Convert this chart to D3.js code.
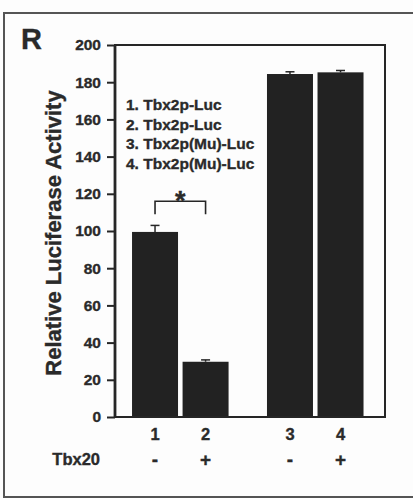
<!DOCTYPE html>
<html>
<head>
<meta charset="utf-8">
<script src="https://cdn.jsdelivr.net/npm/d3@7"></script>
<style>
  html, body { margin: 0; padding: 0; background: #fdfdfd; }
  svg { display: block; }
  text { font-family: "Liberation Sans", Arial, Helvetica, sans-serif; font-weight: bold; fill: #2a2a2a; stroke: #2a2a2a; stroke-width: 0.35px; }
</style>
</head>
<body>
<div id="chart"></div>
<script>
// ---- data ----
const barLabels = ["1", "2", "3", "4"];
const groupPositions = [1, 2, 3.67, 4.67];
const luciferase = [99.5, 29.7, 184.4, 185.3];
const errorValues = [3.5, 1.0, 1.2, 1.0];
const tbx20 = ["-", "+", "-", "+"];
const constructs = ["1. Tbx2p-Luc", "2. Tbx2p-Luc", "3. Tbx2p(Mu)-Luc", "4. Tbx2p(Mu)-Luc"];
const yTicks = [0, 20, 40, 60, 80, 100, 120, 140, 160, 180, 200];
const sigPair = [0, 1];
const sigBracket = [109, 116];

// ---- layout ----
const W = 413, H = 498;
const plot = { left: 115, right: 385, top: 45, bottom: 417 };
const ink = "#262626";

const svg = d3.select("#chart").append("svg").attr("width", W).attr("height", H);

// outer panel frame (right side cropped off)
svg.append("rect").attr("x", 4).attr("y", 13).attr("width", 430).attr("height", 484)
  .attr("fill", "none").attr("stroke", "#555").attr("stroke-width", 2);

// panel letter
svg.append("text").attr("x", 21).attr("y", 49).attr("font-size", 29).text("R");

const x = d3.scaleLinear().domain([0.208, 5.55]).range([plot.left, plot.right]);
const y = d3.scaleLinear().domain([0, 200]).range([plot.bottom, plot.top]);
const barW = 0.91 * (x(1) - x(0));

// bars
svg.append("g").selectAll("rect").data(luciferase).join("rect")
  .attr("x", (d, i) => x(groupPositions[i]) - barW / 2)
  .attr("y", d => y(d))
  .attr("width", barW)
  .attr("height", d => y(0) - y(d))
  .attr("fill", "#222");

// error bars
const eb = svg.append("g").attr("stroke", ink).attr("stroke-width", 1.5);
luciferase.forEach((v, i) => {
  const cx = x(groupPositions[i]);
  eb.append("line").attr("x1", cx).attr("x2", cx).attr("y1", y(v)).attr("y2", y(v + errorValues[i]));
  eb.append("line").attr("x1", cx - 4.5).attr("x2", cx + 4.5)
    .attr("y1", y(v + errorValues[i])).attr("y2", y(v + errorValues[i]));
});

// plot box
svg.append("rect").attr("x", plot.left).attr("y", plot.top)
  .attr("width", plot.right - plot.left).attr("height", plot.bottom - plot.top)
  .attr("fill", "none").attr("stroke", ink).attr("stroke-width", 2);
svg.append("line").attr("x1", plot.left).attr("x2", plot.left).attr("y1", plot.top).attr("y2", plot.bottom)
  .attr("stroke", ink).attr("stroke-width", 2.8);

// y axis
const yAxis = d3.axisLeft(y).tickValues(yTicks).tickSize(8).tickPadding(6);
const ya = svg.append("g").attr("transform", `translate(${plot.left},0)`).call(yAxis);
ya.select(".domain").remove();
ya.selectAll(".tick line").attr("stroke", ink).attr("stroke-width", 2);
ya.selectAll(".tick text").attr("font-size", 15.5).attr("font-family", null).attr("fill", null)
  .attr("font-weight", "bold");

// y title
svg.append("text")
  .attr("transform", `translate(61,${(plot.top + plot.bottom) / 2 + 2}) rotate(-90)`)
  .attr("text-anchor", "middle").attr("font-size", 22)
  .text("Relative Luciferase Activity");

// x labels
svg.append("g").selectAll("text").data(barLabels).join("text")
  .attr("x", (d, i) => x(groupPositions[i])).attr("y", 440)
  .attr("text-anchor", "middle").attr("font-size", 16.5).text(d => d);
svg.append("g").selectAll("text").data(tbx20).join("text")
  .attr("x", (d, i) => x(groupPositions[i])).attr("y", 466)
  .attr("text-anchor", "middle").attr("font-size", 19).text(d => d);
svg.append("text").attr("x", 100).attr("y", 465).attr("text-anchor", "end")
  .attr("font-size", 16.5).text("Tbx20");

// legend of constructs
svg.append("g").selectAll("text").data(constructs).join("text")
  .attr("x", 126).attr("y", (d, i) => 110 + i * 19.5)
  .attr("font-size", 15.5).text(d => d);

// significance bracket
const bx1 = x(groupPositions[sigPair[0]]), bx2 = x(groupPositions[sigPair[1]]);
svg.append("path")
  .attr("d", `M${bx1},${y(sigBracket[0])}V${y(sigBracket[1])}H${bx2}V${y(sigBracket[0])}`)
  .attr("fill", "none").attr("stroke", ink).attr("stroke-width", 1.6);
svg.append("text").attr("x", (bx1 + bx2) / 2).attr("y", y(sigBracket[1]) + 9)
  .attr("text-anchor", "middle").attr("font-size", 27).text("*");
</script>
</body>
</html>
